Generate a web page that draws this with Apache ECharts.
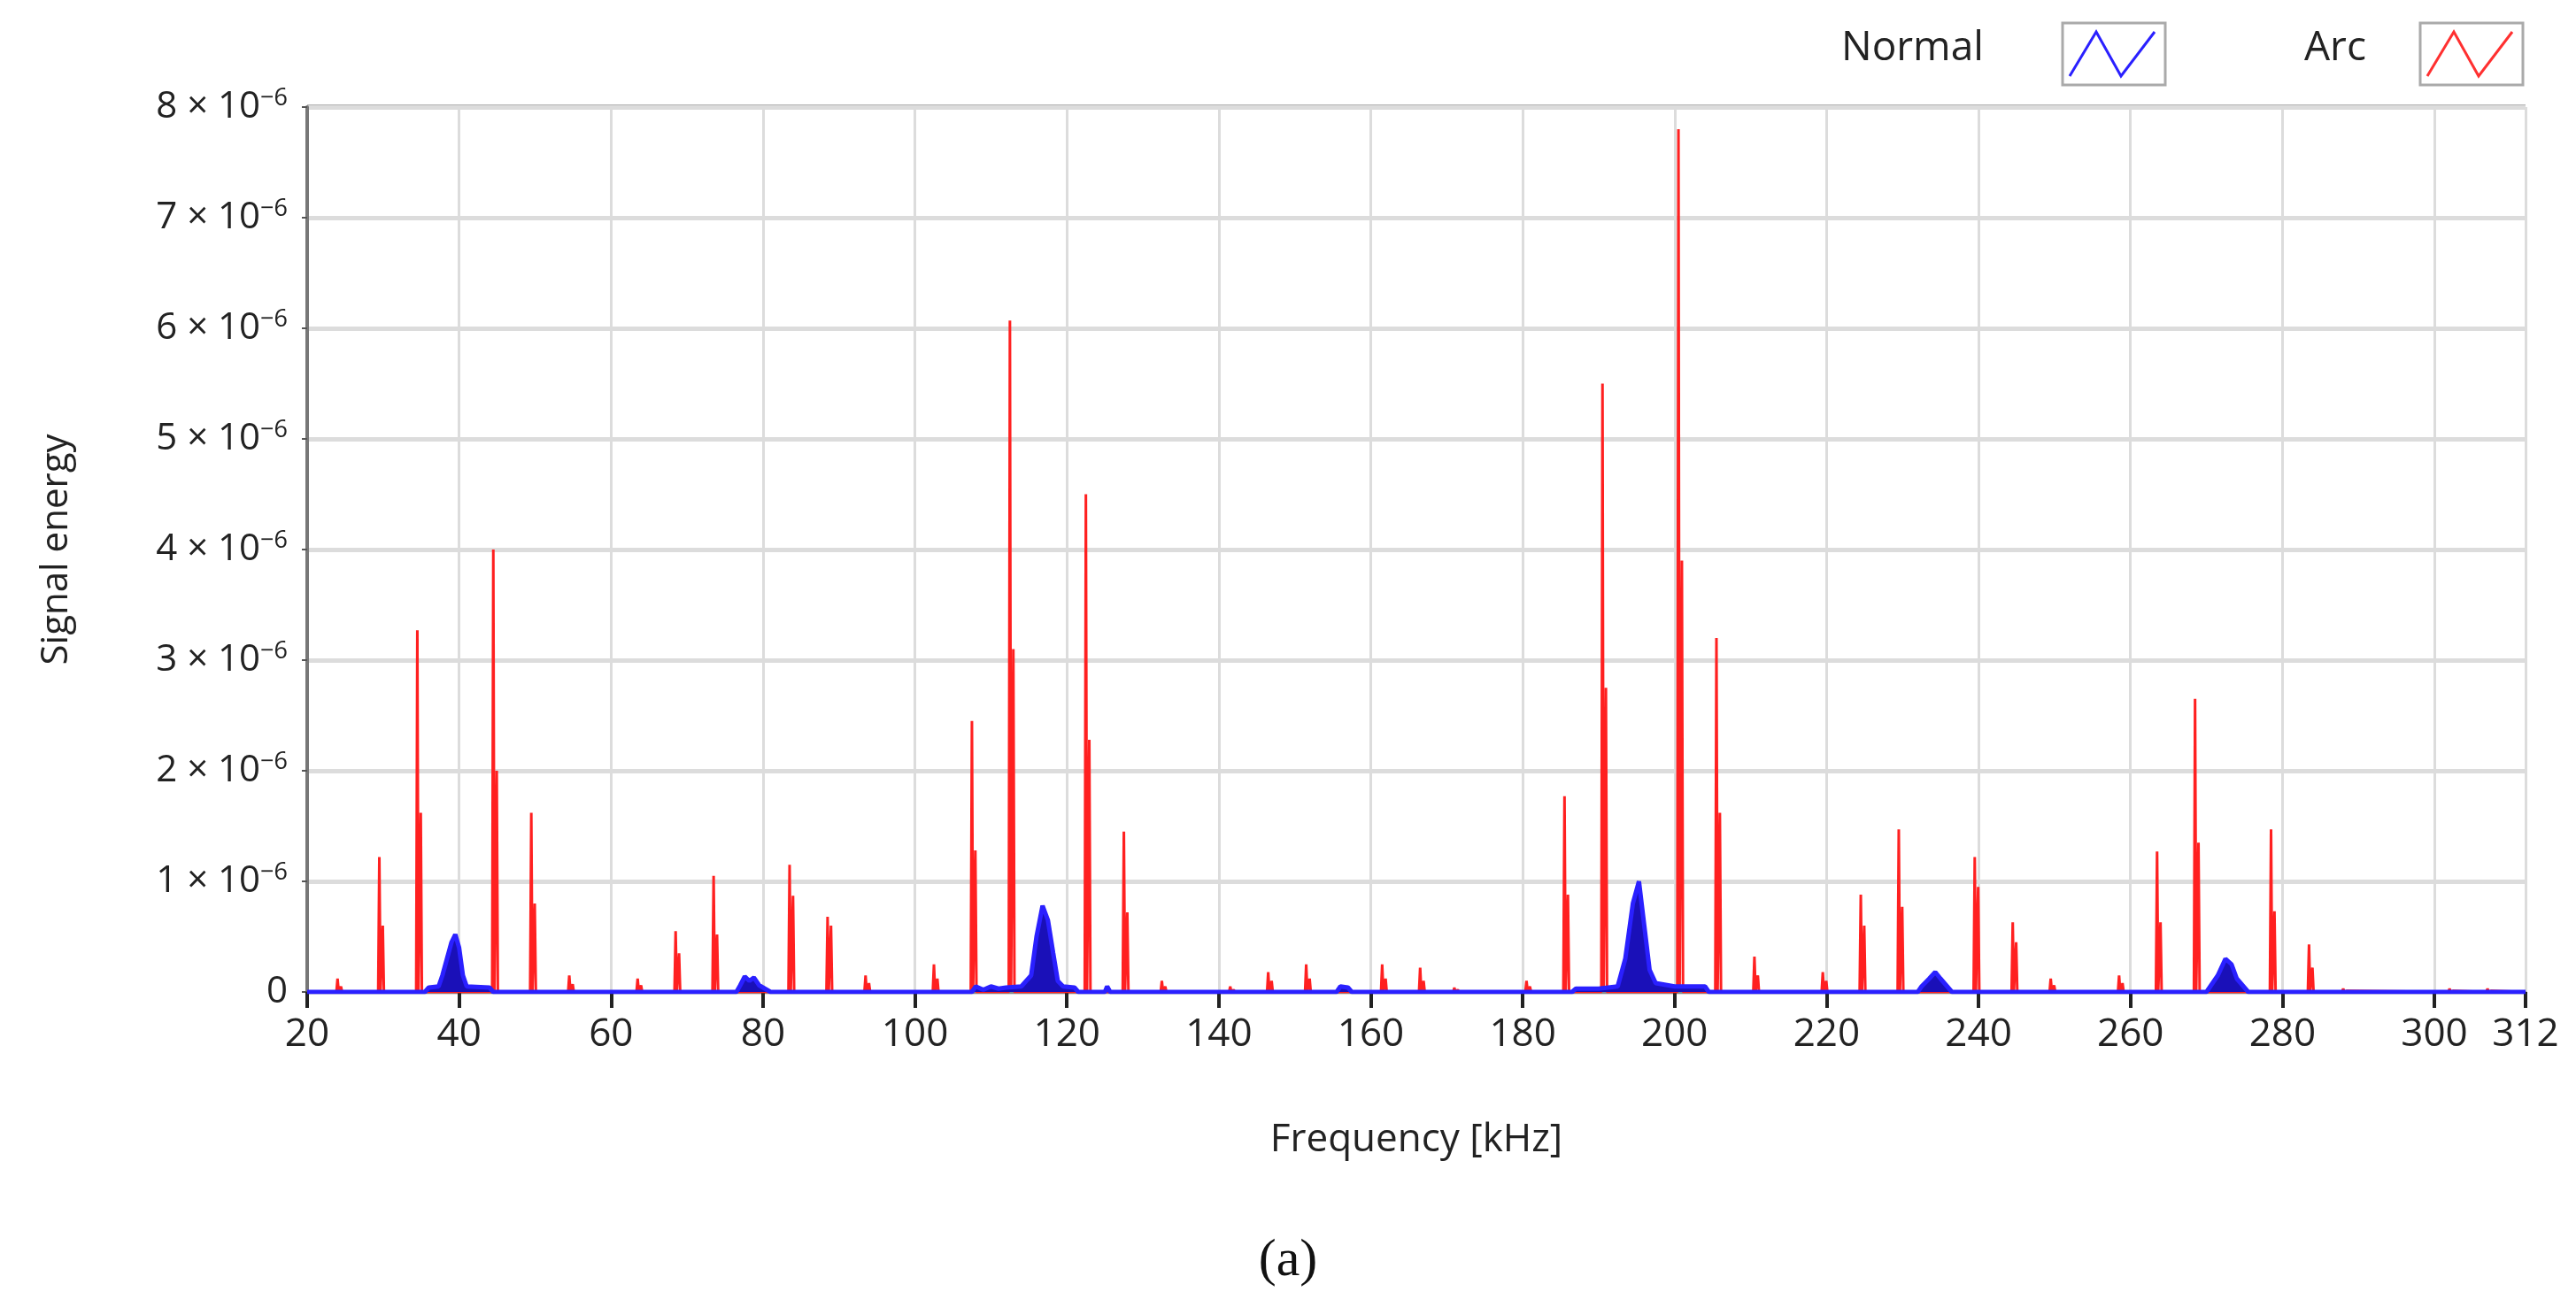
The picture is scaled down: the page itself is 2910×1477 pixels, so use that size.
<!DOCTYPE html>
<html><head><meta charset="utf-8">
<script src="https://cdn.jsdelivr.net/npm/echarts@6/dist/echarts.min.js"></script>
<style>html,body{margin:0;padding:0;background:#fff}#c{width:2910px;height:1477px}</style>
</head><body><div id="c"></div>
<script>
// Arc spikes: frequency (kHz), peak and companion line height (×1e-6)
const arcFreq   = [24,29.5,34.5,44.5,49.5,54.5,63.5,68.5,73.5,83.5,88.5,93.5,102.5,107.5,112.5,122.5,127.5,132.5,141.5,146.5,151.5,161.5,166.5,171,180.5,185.5,190.5,200.5,205.5,210.5,219.5,224.5,229.5,239.5,244.5,249.5,258.5,263.5,268.5,278.5,283.5,288,302,307];
const arcPeak   = [0.12,1.22,3.27,4.0,1.62,0.15,0.12,0.55,1.05,1.15,0.68,0.15,0.25,2.45,6.07,4.5,1.45,0.1,0.05,0.18,0.25,0.25,0.22,0.04,0.1,1.77,5.5,7.8,3.2,0.32,0.18,0.88,1.47,1.22,0.63,0.12,0.15,1.27,2.65,1.47,0.43,0.03,0.03,0.03];
const arcSecond = [0.05,0.6,1.62,2.0,0.8,0.07,0.06,0.35,0.52,0.87,0.6,0.08,0.12,1.28,3.1,2.28,0.72,0.05,0.02,0.1,0.12,0.12,0.1,0.02,0.05,0.88,2.75,3.9,1.62,0.15,0.1,0.6,0.77,0.95,0.45,0.06,0.08,0.63,1.35,0.73,0.22,0.01,0.01,0.01];
// Normal spectrum (×1e-6)
const normalFreq = [20,35.5,36,37.3,37.8,38.4,39,39.5,40,40.5,41,44,44.5,76.5,77,77.6,78.2,78.8,79.5,80.5,81,107.5,108,109,110,111,112,114,115.3,116,116.8,117.5,118.2,118.8,119.5,121,121.5,125,125.3,125.7,155.5,156,157,157.5,186.5,187,190,192.5,193.5,194.5,195.3,196,196.7,197.5,200,204,204.5,232,232.5,233.5,234.3,235,236,236.5,270,270.5,271.5,272.5,273.3,274,275,275.5,312];
const normalVal  = [0,0,0.04,0.05,0.15,0.3,0.45,0.52,0.4,0.15,0.05,0.04,0,0,0.06,0.14,0.1,0.13,0.06,0.02,0,0,0.05,0.02,0.05,0.03,0.04,0.05,0.15,0.5,0.78,0.65,0.35,0.1,0.05,0.04,0,0,0.05,0,0,0.05,0.04,0,0,0.03,0.03,0.05,0.3,0.8,1.0,0.6,0.2,0.08,0.05,0.05,0,0,0.05,0.12,0.18,0.12,0.04,0,0,0.05,0.15,0.3,0.25,0.12,0.04,0,0];
const xTicks = [20,40,60,80,100,120,140,160,180,200,220,240,260,280,300,312];

const S = 1e-6;
const arcData = [[20,0]];
arcFreq.forEach((f,i)=>{
  arcData.push([f-0.15,0],[f,arcPeak[i]*S],[f+0.15,0],[f+0.3,0],[f+0.45,arcSecond[i]*S],[f+0.6,0]);
});
arcData.push([312,0]);
const normalData = normalFreq.map((f,i)=>[f,normalVal[i]*S]);

const font = '"Open Sans", "Noto Sans", sans-serif';
const chart = echarts.init(document.getElementById('c'));
function zig(x0,y0,color){
  return [
    {type:'rect',shape:{x:x0,y:y0,width:116,height:70},style:{fill:'#fff',stroke:'#aaa',lineWidth:3}},
    {type:'polyline',shape:{points:[[x0+8,y0+60],[x0+38,y0+10],[x0+66,y0+60],[x0+104,y0+10]]},style:{stroke:color,lineWidth:3,fill:null}}
  ];
}
chart.setOption({
  animation:false,
  backgroundColor:'#fff',
  grid:{left:347,right:57,top:121,bottom:356},
  xAxis:{type:'value',min:20,max:312,interval:20,
    name:'Frequency [kHz]',nameLocation:'middle',nameGap:145,
    nameTextStyle:{fontFamily:font,fontSize:44,color:'#222'},
    axisLine:{show:true,onZero:false,lineStyle:{color:'#888',width:3}},
    axisTick:{show:true,length:18,inside:false,lineStyle:{color:'#222',width:4},customValues:xTicks},
    axisLabel:{fontFamily:font,fontSize:44,color:'#222',margin:26,customValues:xTicks},
    splitLine:{show:true,lineStyle:{color:'#dcdcdc',width:3}}
  },
  yAxis:{type:'value',min:0,max:8e-6,interval:1e-6,
    name:'Signal energy',nameLocation:'middle',nameGap:262,
    nameTextStyle:{fontFamily:font,fontSize:42,color:'#222'},
    axisLine:{show:true,lineStyle:{color:'#777',width:4}},
    axisTick:{show:true,length:6,lineStyle:{color:'#555',width:2}},
    axisLabel:{fontFamily:font,fontSize:42,color:'#222',margin:22,
      formatter:v=>{const n=Math.round(v/S);return n===0?'0':'{b|'+n+' × 10}{s|−6}';},
      rich:{b:{fontFamily:font,fontSize:42,color:'#222'},s:{fontFamily:font,fontSize:27,color:'#222',verticalAlign:'top',padding:[0,0,20,0]}}},
    splitLine:{show:true,lineStyle:{color:'#dcdcdc',width:5}}
  },
  series:[
    {name:'Arc',type:'line',data:arcData,showSymbol:false,lineStyle:{color:'#ff2020',width:3},z:2},
    {name:'Normal',type:'line',data:normalData,showSymbol:false,lineStyle:{color:'#2a20ff',width:5},
      areaStyle:{color:'#1a10b8',opacity:1},z:3}
  ],
  graphic:[
    {type:'line',shape:{x1:347,y1:121,x2:2853,y2:121},style:{stroke:'#666',lineWidth:5}},
    {type:'text',left:2080,top:32,style:{text:'Normal',fontFamily:font,fontSize:46,fill:'#222'}},
    ...zig(2330,26,'#2a20ff'),
    {type:'text',left:2603,top:32,style:{text:'Arc',fontFamily:font,fontSize:46,fill:'#222'}},
    ...zig(2734,26,'#ff3030'),
    {type:'text',left:'center',top:1395,style:{text:'(a)',fontFamily:'"Liberation Serif", serif',fontSize:60,fill:'#111'}}
  ]
});
</script></body></html>
